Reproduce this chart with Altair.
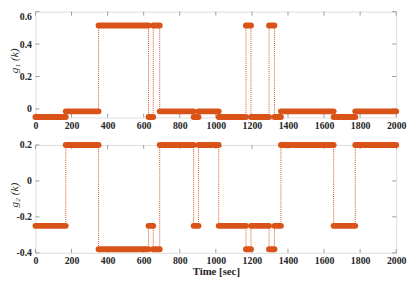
import altair as alt
import pandas as pd

# ---- data ----
time_breaks = [0, 168, 350, 627, 653, 689, 877, 904, 1016, 1167, 1195, 1295, 1325, 1361, 1653, 1773, 2000]
states = ["A", "B", "C", "A", "C", "B", "A", "B", "A", "C", "A", "C", "A", "B", "A", "B"]
g1_levels = {"A": -0.05, "B": -0.015, "C": 0.515}
g2_levels = {"A": -0.25, "B": 0.2, "C": -0.38}

x_ticks = [0, 200, 400, 600, 800, 1000, 1200, 1400, 1600, 1800, 2000]
g1_ticks = [0, 0.2, 0.4, 0.6]
g2_ticks = [-0.4, -0.2, 0, 0.2]

COLOR = "#D95319"
GREY = "#9a9a9a"
FONT = "Liberation Serif, DejaVu Serif, serif"
W = 368

seg_df = pd.DataFrame({
    "start": time_breaks[:-1],
    "end": time_breaks[1:],
    "g1": [g1_levels[s] for s in states],
    "g2": [g2_levels[s] for s in states],
})
tr_df = pd.DataFrame({
    "t": time_breaks[1:-1],
    "g1_from": [g1_levels[s] for s in states[:-1]],
    "g1_to": [g1_levels[s] for s in states[1:]],
    "g2_from": [g2_levels[s] for s in states[:-1]],
    "g2_to": [g2_levels[s] for s in states[1:]],
})

label_expr = "datum.value == 0 ? '0' : (datum.value < 0 ? '-' : '') + format(abs(datum.value), '.1f')"


def panel(field, ticks, domain, height, ytitle, xtitle, flush_top):
    xs = alt.Scale(domain=[0, 2000], nice=False, zero=False)
    ys = alt.Scale(domain=domain, nice=False, zero=False)
    xaxis_kw = dict(
        values=x_ticks, format="d", domain=False, ticks=False, grid=False,
        labelFont=FONT, labelFontWeight="bold", labelFontSize=10, labelColor="#262626",
        labelPadding=3, labelFlush=False, labelOverlap=False,
    )
    if xtitle:
        xaxis = alt.Axis(title=xtitle, titleFont=FONT, titleFontWeight="bold", titleFontSize=11,
                         titleColor="#262626", titleY=13, titleBaseline="top", **xaxis_kw)
    else:
        xaxis = alt.Axis(title=None, **xaxis_kw)
    yaxis = alt.Axis(
        values=ticks, domain=False, ticks=False, grid=False, labelExpr=label_expr,
        labelFont=FONT, labelFontWeight="bold", labelFontSize=10, labelColor="#262626",
        labelPadding=4, labelFlush=flush_top,
        title=ytitle, titleFont=FONT, titleFontStyle="italic", titleFontWeight="normal",
        titleFontSize=11.5, titleColor="#262626", titleX=-16, titleBaseline="bottom",
        titleAlign="center", titleY=height * 0.46,
    )

    trans = alt.Chart(tr_df).mark_rule(color=COLOR, strokeWidth=1, strokeDash=[1, 1]).encode(
        x=alt.X("t:Q", scale=xs, axis=xaxis),
        y=alt.Y(f"{field}_from:Q", scale=ys, axis=yaxis),
        y2=f"{field}_to:Q",
    )
    segs = alt.Chart(seg_df).mark_rule(color=COLOR, strokeWidth=6, strokeCap="round").encode(
        x=alt.X("start:Q", scale=xs, axis=xaxis),
        x2="end:Q",
        y=alt.Y(f"{field}:Q", scale=ys, axis=yaxis),
    )
    xt = pd.DataFrame({"xt": x_ticks})
    yt = pd.DataFrame({"yt": ticks})
    xb = alt.Chart(xt).mark_rule(color=GREY, strokeWidth=1).encode(
        x=alt.X("xt:Q", scale=xs, axis=xaxis), y=alt.value(height), y2=alt.value(height - 4))
    xtop = alt.Chart(xt).mark_rule(color=GREY, strokeWidth=1).encode(
        x=alt.X("xt:Q", scale=xs, axis=xaxis), y=alt.value(0), y2=alt.value(4))
    yl = alt.Chart(yt).mark_rule(color=GREY, strokeWidth=1).encode(
        y=alt.Y("yt:Q", scale=ys, axis=yaxis), x=alt.value(0), x2=alt.value(4))
    yr = alt.Chart(yt).mark_rule(color=GREY, strokeWidth=1).encode(
        y=alt.Y("yt:Q", scale=ys, axis=yaxis), x=alt.value(W - 4), x2=alt.value(W))
    return alt.layer(xb, xtop, yl, yr, trans, segs).properties(width=W, height=height)


top = panel("g1", g1_ticks, [-0.053, 0.6], 108, "g₁ (k)", None, True)
bottom = panel("g2", g2_ticks, [-0.4, 0.2], 110, "g₂ (k)", "Time [sec]", False)

chart = alt.vconcat(top, bottom, spacing=28, bounds="flush").properties(
    padding=0
).configure_view(stroke=GREY, strokeWidth=1).configure(background="white")

chart.save("out.html", embed_options={"renderer": "svg", "actions": False})
